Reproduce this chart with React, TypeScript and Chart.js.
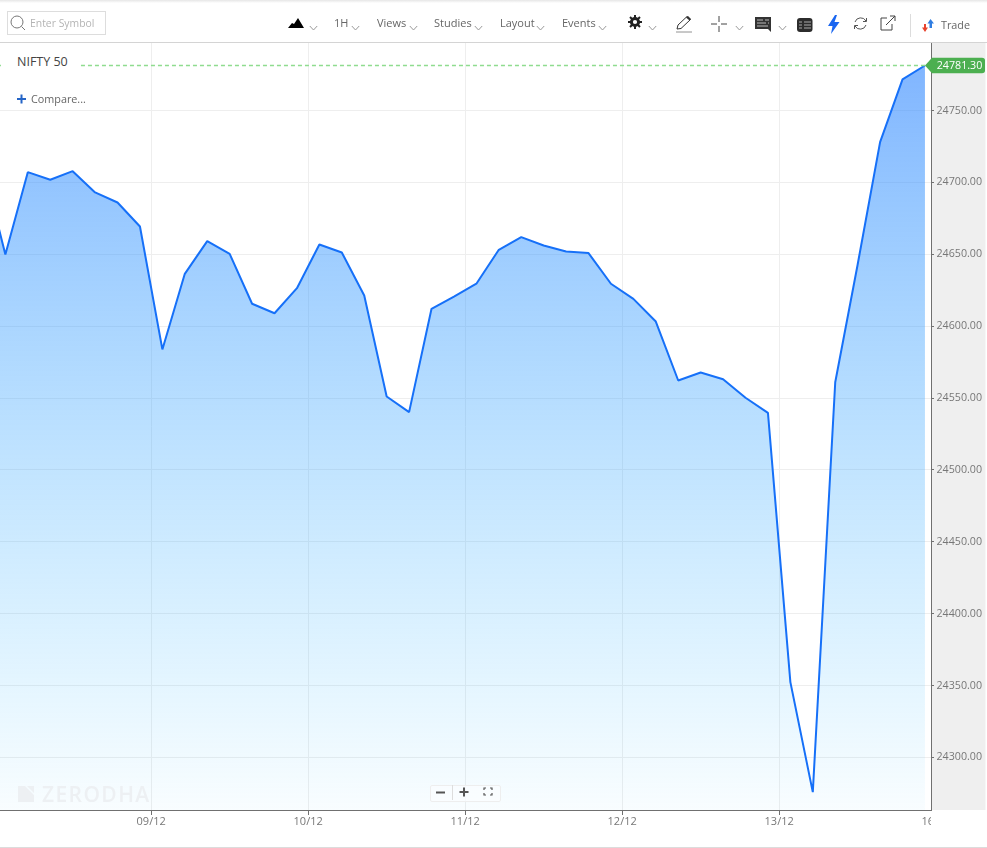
import React, { useEffect, useRef } from "react";
import { Chart, registerables } from "chart.js";

Chart.register(...registerables);

const closes = [
  24711.7, 24649.8, 24707.1, 24701.8, 24707.8, 24693.0, 24686.0, 24669.3, 24583.8, 24636.4,
  24659.1, 24650.3, 24615.6, 24609.0, 24626.4, 24656.8, 24651.2, 24621.3, 24551.1, 24540.2,
  24612.1, 24620.6, 24629.5, 24653.1, 24661.9, 24656.1, 24651.9, 24650.8, 24629.5, 24619.0,
  24603.2, 24562.2, 24567.8, 24563.1, 24550.2, 24539.7, 24352.4, 24275.9, 24561.0, 24642.9,
  24728.0, 24771.6, 24781.3,
];
const lastPrice = 24781.3;
const priceTicks = [24300, 24350, 24400, 24450, 24500, 24550, 24600, 24650, 24700, 24750];
const dayTickPositions = [7.5, 14.5, 21.5, 28.5, 35.5];
const dayTickLabels = ["09/12", "10/12", "11/12", "12/12", "13/12"];
const clippedDayPosition = 42.5;
const clippedDayLabel = "16/12";
const symbol = "NIFTY 50";
const menuItems: [string, number][] = [["1H", 334], ["Views", 377], ["Studies", 434], ["Layout", 500], ["Events", 562]];
const chevrons = [313, 355, 413, 478, 540, 602, 652, 739, 782];

const FONT = '"Open Sans", sans-serif';
const GUTTER_RIGHT = 985.5;

const chromePlugin = {
  id: "chrome",
  beforeDraw(chart: any) {
    const { ctx, chartArea } = chart;
    ctx.save();
    ctx.fillStyle = "#efefef";
    ctx.fillRect(chartArea.right, chartArea.top, GUTTER_RIGHT - chartArea.right, chartArea.bottom - chartArea.top);
    ctx.restore();
  },
  afterDraw(chart: any) {
    const { ctx, chartArea, scales } = chart;
    ctx.save();
    // clipped last date label
    ctx.beginPath();
    ctx.rect(chartArea.left, chartArea.bottom, chartArea.right - chartArea.left, 38);
    ctx.clip();
    ctx.font = `11px ${FONT}`;
    ctx.fillStyle = "#777";
    ctx.textAlign = "center";
    ctx.textBaseline = "middle";
    ctx.fillText(clippedDayLabel, scales.x.getPixelForValue(clippedDayPosition), 822);
    ctx.restore();

    // current price tag
    const y = scales.y.getPixelForValue(lastPrice);
    const tip = chartArea.right - 6;
    const right = 985;
    ctx.save();
    ctx.fillStyle = "#4caf50";
    ctx.beginPath();
    ctx.moveTo(tip, y);
    ctx.lineTo(tip + 7, y - 7.7);
    ctx.lineTo(right - 3, y - 7.7);
    ctx.quadraticCurveTo(right, y - 7.7, right, y - 5);
    ctx.lineTo(right, y + 5);
    ctx.quadraticCurveTo(right, y + 7.7, right - 3, y + 7.7);
    ctx.lineTo(tip + 7, y + 7.7);
    ctx.closePath();
    ctx.fill();
    ctx.font = `10.7px ${FONT}`;
    ctx.fillStyle = "#fff";
    ctx.textAlign = "left";
    ctx.textBaseline = "middle";
    ctx.fillText(lastPrice.toFixed(2), chartArea.right + 5.7, y + 0.5);
    ctx.restore();
  },
};

const Chevron = ({ x }: { x: number }) => (
  <svg style={{ position: "absolute", left: x - 4, top: 25, width: 9, height: 6 }} viewBox="0 0 9 6">
    <path d="M0.8 1 L4.5 5 L8.2 1" fill="none" stroke="#999" strokeWidth="1" />
  </svg>
);

const Icon = ({ x, y, w, h, children }: any) => (
  <svg style={{ position: "absolute", left: x, top: y, width: w, height: h }} viewBox={`0 0 ${w} ${h}`}>
    {children}
  </svg>
);

const abs = (left: number, top: number, extra: any = {}) => ({
  position: "absolute" as const,
  left,
  top,
  whiteSpace: "nowrap" as const,
  fontFamily: FONT,
  ...extra,
});

export default function App() {
  const ref = useRef<HTMLCanvasElement>(null);

  useEffect(() => {
    const chart = new Chart(ref.current as HTMLCanvasElement, {
      type: "line",
      data: {
        datasets: [
          {
            label: "Last price",
            data: [
              { x: 0, y: lastPrice },
              { x: closes.length - 1, y: lastPrice },
            ],
            borderColor: "#8fdc8f",
            borderWidth: 1.5,
            borderDash: [4, 3],
            borderCapStyle: "butt",
            pointRadius: 0,
            fill: false,
          },
          {
            label: symbol,
            data: closes.map((y, x) => ({ x, y })),
            borderColor: "#1670f8",
            borderWidth: 2,
            borderJoinStyle: "bevel",
            pointRadius: 0,
            tension: 0,
            fill: "start",
            backgroundColor: (c: any) => {
              const area = c.chart.chartArea;
              if (!area) return "rgba(51,136,255,0.3)";
              const py = c.chart.scales.y.getPixelForValue(lastPrice);
              const g = c.chart.ctx.createLinearGradient(0, py, 0, area.bottom);
              g.addColorStop(0, "rgba(51,136,255,0.62)");
              g.addColorStop(1, "rgba(51,190,255,0.03)");
              return g;
            },
          },
        ],
      },
      options: {
        responsive: false,
        animation: false,
        devicePixelRatio: 1,
        layout: { padding: { top: 43, left: 0, right: 0, bottom: 0 } },
        plugins: { legend: { display: false }, tooltip: { enabled: false } },
        scales: {
          x: {
            type: "linear",
            min: 0.76,
            max: 42.27,
            afterBuildTicks: (s: any) => {
              s.ticks = dayTickPositions.map((value) => ({ value }));
            },
            afterFit: (s: any) => {
              s.height = 38;
            },
            border: { color: "#707070", width: 1 },
            grid: { color: "#eeeeee", tickColor: "#707070", tickLength: 5 },
            ticks: {
              autoSkip: false,
              maxRotation: 0,
              padding: 0,
              color: "#777",
              font: { family: FONT, size: 11 },
              callback: (v: any) => dayTickLabels[dayTickPositions.indexOf(Number(v))],
            },
          },
          y: {
            type: "linear",
            position: "right",
            min: 24263.45,
            max: 24796.95,
            afterBuildTicks: (s: any) => {
              s.ticks = priceTicks.map((value) => ({ value }));
            },
            afterFit: (s: any) => {
              s.width = 56;
            },
            border: { color: "#707070", width: 1 },
            grid: { color: "#eeeeee", tickColor: "#707070", tickLength: 3 },
            ticks: {
              autoSkip: false,
              padding: 2.5,
              color: "#777",
              font: { family: FONT, size: 10.7 },
              callback: (v: any) => Number(v).toFixed(2),
            },
          },
        },
      },
      plugins: [chromePlugin],
    } as any);
    return () => chart.destroy();
  }, []);

  return (
    <div style={{ position: "fixed", left: 0, top: 0, width: 987, height: 848, background: "#fff", overflow: "hidden" }}>
      <canvas ref={ref} width={987} height={848} style={{ display: "block", position: "absolute", left: 0, top: 0 }} />

      {/* frame */}
      <div style={{ position: "absolute", left: 0, top: 0, width: 987, height: 3, background: "linear-gradient(#e6e6e6,#fff)" }} />
      <div style={{ position: "absolute", left: 0, top: 42, width: 987, height: 1, background: "#d4d4d4" }} />
      <div style={{ position: "absolute", left: 0, top: 847, width: 987, height: 1, background: "#dcdcdc" }} />

      {/* toolbar */}
      <div style={{ position: "absolute", left: 7, top: 11, width: 97, height: 22, border: "1px solid #dddddd" }} />
      <Icon x={9} y={14} w={17} h={18}>
        <circle cx="8" cy="8" r="6" fill="none" stroke="#777" strokeWidth="1" />
        <path d="M12.5 12.5 L16 16" stroke="#777" strokeWidth="1" />
      </Icon>
      <span style={abs(30, 15, { fontSize: 10.4, lineHeight: "16px", color: "#b4b4b4" })}>Enter Symbol</span>
      <Icon x={288} y={18} w={16} h={11}>
        <path d="M0 10 L4 5 L6 6 L10 0 L16 10 Z" fill="#000" />
      </Icon>
      {menuItems.map(([label, x]) => (
        <span key={label} style={abs(x, 15, { fontSize: 11, lineHeight: "16px", color: "#666" })}>{label}</span>
      ))}
      {chevrons.map((x) => <Chevron key={x} x={x} />)}
      <Icon x={628} y={15} w={15} h={15}>
        <circle cx="7" cy="7" r="3.6" fill="none" stroke="#222" strokeWidth="3" />
        <path d="M7 0 V3 M7 11 V14 M0 7 H3 M11 7 H14 M2 2 L4 4 M10 10 L12 12 M2 12 L4 10 M10 4 L12 2" stroke="#222" strokeWidth="2" />
      </Icon>
      <Icon x={675} y={15} w={18} h={19}>
        <path d="M2 14 L3 10 L12 1.5 L15.5 4.5 L6 13.5 Z" fill="none" stroke="#333" strokeWidth="1" />
        <path d="M11 2.5 L14.5 5.5 L16 4 L13 1 Z" fill="#333" />
        <path d="M1 17 H17" stroke="#777" strokeWidth="0.8" />
      </Icon>
      <Icon x={711} y={16} w={16} h={16}>
        <path d="M8 0 V6 M8 10 V16 M0 8 H6 M10 8 H16" stroke="#444" strokeWidth="1" />
      </Icon>
      <Icon x={755} y={17} w={17} h={17}>
        <path d="M0 0 H16 V15 L13 12 H0 Z" fill="#333" />
        <path d="M2 3 H8 M2 6 H11 M2 9 H13 M10 3 H14 M13 6 H14" stroke="#bbb" strokeWidth="1" />
      </Icon>
      <Icon x={797} y={17} w={16} h={16}>
        <rect x="0" y="1" width="15.5" height="14" rx="3" fill="#2c2c2c" />
        <path d="M2 5 H5 M7 5 H14 M2 8 H5 M7 8 H14 M2 11 H5 M7 11 H14" stroke="#aaa" strokeWidth="1" />
      </Icon>
      <Icon x={827} y={15} w={13} h={19}>
        <path d="M8 0 L1 11 H5.5 L4 19 L12.5 7 H7.5 L10 0 Z" fill="#1a66f0" />
      </Icon>
      <Icon x={853} y={16} w={15} h={15}>
        <path d="M2 6 A6 6 0 0 1 13 5 M13 9 A6 6 0 0 1 2 10" fill="none" stroke="#555" strokeWidth="1" />
        <path d="M13.5 2 V5.5 H10 M1.5 13 V9.5 H5" fill="none" stroke="#555" strokeWidth="1" />
      </Icon>
      <Icon x={880} y={15} w={16} h={16}>
        <path d="M7 3 H1 V15 H12 V9" fill="none" stroke="#444" strokeWidth="1" />
        <path d="M6 10 L15 1 M10 1 H15 V6" fill="none" stroke="#444" strokeWidth="1" />
      </Icon>
      <div style={{ position: "absolute", left: 910, top: 14, width: 1, height: 23, background: "#dcdcdc" }} />
      <Icon x={922} y={19} w={12} h={13}>
        <path d="M3 13 L0 8.5 H2 V5 H4 V8.5 H6 Z" fill="#e8432e" />
        <path d="M8.5 0 L12 4.5 H10 V9 H7.5 V4.5 H5.5 Z" fill="#2f7de1" />
      </Icon>
      <span style={abs(941, 17, { fontSize: 10.8, lineHeight: "16px", color: "#666" })}>Trade</span>

      {/* chart labels */}
      <span style={abs(3, 53, { fontSize: 12.5, lineHeight: "17px", color: "#444", background: "#fff", paddingLeft: 14, paddingRight: 11 })}>{symbol}</span>
      <Icon x={17} y={94} w={9} h={10}>
        <path d="M4.5 0.5 V9.5 M0 5 H9" stroke="#2565c7" strokeWidth="2" />
      </Icon>
      <span style={abs(31, 91, { fontSize: 10.8, lineHeight: "16px", color: "#666" })}>Compare...</span>

      {/* watermark */}
      <Icon x={18} y={786} w={16} h={16}>
        <path d="M0 0 H7 L16 9 V16 H0 Z M9 0 H16 V7 Z" fill="#edf0f3" />
      </Icon>
      <span style={abs(42, 780, { fontSize: 21, lineHeight: "28px", fontWeight: 600, letterSpacing: 1.4, color: "#edf0f3" })}>ZERODHA</span>

      {/* zoom controls */}
      <div style={{ position: "absolute", left: 430, top: 785, width: 69, height: 15, border: "1px solid #eeeeee", borderRadius: 2, background: "rgba(250,252,255,0.8)" }} />
      <div style={{ position: "absolute", left: 452, top: 785, width: 1, height: 15, background: "#dddddd" }} />
      <Icon x={436} y={788} w={10} h={10}>
        <path d="M0 4.5 H9" stroke="#555" strokeWidth="2" />
      </Icon>
      <Icon x={459} y={787} w={11} h={11}>
        <path d="M0.5 5 H9.5 M5 0.5 V9.5" stroke="#555" strokeWidth="2" />
      </Icon>
      <Icon x={483} y={787} w={10} h={9}>
        <path d="M1 3 V1 H3 M7 1 H9 V3 M9 6 V8 H7 M3 8 H1 V6" fill="none" stroke="#555" strokeWidth="1.2" />
      </Icon>
    </div>
  );
}
